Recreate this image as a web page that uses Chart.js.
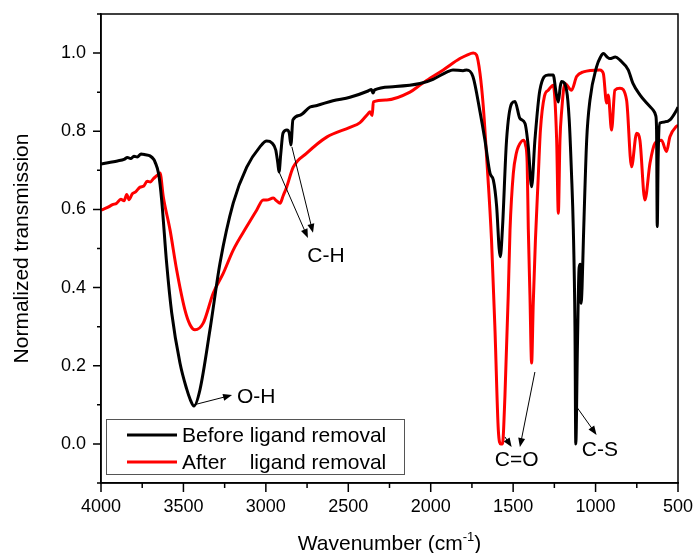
<!DOCTYPE html>
<html>
<head>
<meta charset="utf-8">
<script src="https://cdn.jsdelivr.net/npm/chart.js@4.4.0/dist/chart.umd.min.js"></script>
<style>
  html, body { margin: 0; padding: 0; background: #fff; }
  #wrap { width: 693px; height: 553px; position: relative; }
</style>
</head>
<body>
<div id="wrap"><canvas id="ftir"></canvas></div>
<script>
// FTIR spectra (wavenumber in cm-1, normalized transmission)
const beforeWave = [4000, 3950, 3900, 3860, 3840, 3820, 3800, 3780, 3757, 3730, 3703, 3680, 3672, 3650,
  3632, 3602, 3571, 3521, 3480, 3460, 3436, 3400, 3339, 3278, 3198, 3116, 3036, 2995, 2963, 2940,
  2928, 2920, 2910, 2896, 2872, 2858, 2848, 2836, 2793, 2732, 2690, 2593, 2490, 2380, 2360, 2350,
  2340, 2229, 2065, 1986, 1900, 1865, 1804, 1782, 1744, 1701, 1671, 1640, 1620, 1600, 1585, 1578,
  1565, 1540, 1509, 1489, 1459, 1428, 1408, 1388, 1368, 1338, 1287, 1257, 1240, 1226, 1214, 1206,
  1176, 1160, 1146, 1135, 1125, 1120, 1110, 1100, 1093, 1088, 1082, 1074, 1054, 1034, 994, 970,
  953, 930, 913, 880, 852, 802, 774, 731, 690, 650, 635, 630, 626, 620, 610, 579, 549, 509, 500];
const beforeT = [0.716, 0.72, 0.724, 0.728, 0.733, 0.73, 0.736, 0.734, 0.742, 0.74, 0.737, 0.728, 0.721, 0.69,
  0.624, 0.463, 0.335, 0.207, 0.14, 0.115, 0.097, 0.138, 0.292, 0.463, 0.616, 0.708, 0.76, 0.775, 0.77, 0.752,
  0.72, 0.696, 0.74, 0.795, 0.803, 0.795, 0.765, 0.829, 0.841, 0.862, 0.866, 0.878, 0.887, 0.903, 0.907, 0.898,
  0.906, 0.914, 0.922, 0.933, 0.952, 0.957, 0.955, 0.957, 0.94, 0.85, 0.777, 0.692, 0.675, 0.607, 0.5, 0.479,
  0.55, 0.777, 0.871, 0.876, 0.833, 0.82, 0.76, 0.658, 0.777, 0.905, 0.944, 0.944, 0.9, 0.875, 0.915, 0.927,
  0.905, 0.83, 0.692, 0.55, 0.3, 0.0, 0.25, 0.45, 0.46, 0.36, 0.4, 0.52, 0.777, 0.88, 0.965, 0.99,
  0.999, 0.99, 0.986, 0.99, 0.982, 0.957, 0.923, 0.893, 0.872, 0.854, 0.84, 0.803, 0.556, 0.74, 0.821, 0.824, 0.829, 0.854, 0.862];

const afterWave = [4000, 3960, 3930, 3905, 3880, 3860, 3844, 3830, 3810, 3790, 3763, 3740, 3720, 3700,
  3684, 3665, 3650, 3642, 3622, 3581, 3541, 3491, 3460, 3430, 3380, 3319, 3258, 3198, 3116, 3056,
  3016, 2995, 2955, 2935, 2914, 2895, 2874, 2834, 2752, 2631, 2490, 2429, 2380, 2368, 2355, 2348,
  2267, 2126, 2065, 2025, 1924, 1823, 1780, 1742, 1722, 1701, 1681, 1661, 1631, 1610, 1590, 1575, 1565,
  1550, 1530, 1519, 1499, 1480, 1469, 1438, 1425, 1415, 1408, 1398, 1388, 1378, 1365, 1348, 1335,
  1310, 1287, 1257, 1236, 1226, 1216, 1206, 1186, 1146, 1115, 1074, 974, 953, 933, 923, 903, 883,
  852, 812, 782, 751, 731, 701, 670, 640, 600, 570, 549, 509, 500];
const afterT = [0.598, 0.605, 0.612, 0.616, 0.626, 0.622, 0.638, 0.625, 0.64, 0.645, 0.657, 0.66, 0.672, 0.67,
  0.678, 0.685, 0.69, 0.693, 0.632, 0.547, 0.445, 0.343, 0.305, 0.292, 0.309, 0.386, 0.437, 0.496, 0.556, 0.598,
  0.624, 0.624, 0.629, 0.622, 0.616, 0.635, 0.657, 0.708, 0.744, 0.785, 0.81, 0.822, 0.845, 0.85, 0.84, 0.875,
  0.88, 0.9, 0.918, 0.93, 0.957, 0.986, 0.995, 1.0, 0.995, 0.948, 0.863, 0.735, 0.52, 0.29, 0.036, 0.0, 0.0,
  0.12, 0.377, 0.547, 0.692, 0.745, 0.76, 0.777, 0.765, 0.72, 0.55, 0.38, 0.207, 0.36, 0.52, 0.68, 0.8,
  0.89, 0.905, 0.918, 0.777, 0.59, 0.777, 0.85, 0.922, 0.905, 0.94, 0.952, 0.957, 0.948, 0.872, 0.893, 0.803, 0.905,
  0.91, 0.88, 0.709, 0.795, 0.777, 0.624, 0.718, 0.769, 0.777, 0.748, 0.786, 0.813, 0.815];

const seriesLabels = ['Before ligand removal', 'After    ligand removal'];
const seriesColors = ['#000000', '#ff0000'];

// peak labels: [text, label wavenumber, label value, [[fromW, fromT, toW, toT], ...], align]
const peakNotes = [
  ['O-H', 3175, 0.12, [[3436, 0.10, 3205, 0.125]], 'left'],
  ['C-H', 2635, 0.48, [[2920, 0.696, 2745, 0.527], [2842, 0.76, 2714, 0.54]], 'center'],
  ['C=O', 1479, -0.041, [[1550, 0.018, 1509, -0.008], [1368, 0.184, 1459, -0.008]], 'center'],
  ['C-S', 974, -0.015, [[1115, 0.095, 994, 0.023]], 'center']
];

const FONT = '"Liberation Sans", Arial, sans-serif';

function pairUp(ws, ts) {
  return ws.map((w, i) => ({ x: w, y: ts[i] }));
}

function arrow(ctx, x1, y1, x2, y2) {
  const ang = Math.atan2(y2 - y1, x2 - x1);
  const len = 9, half = 3.5;
  ctx.beginPath();
  ctx.moveTo(x1, y1);
  ctx.lineTo(x2 - Math.cos(ang) * len * 0.8, y2 - Math.sin(ang) * len * 0.8);
  ctx.stroke();
  ctx.beginPath();
  ctx.moveTo(x2, y2);
  ctx.lineTo(x2 - Math.cos(ang) * len - Math.sin(ang) * half, y2 - Math.sin(ang) * len + Math.cos(ang) * half);
  ctx.lineTo(x2 - Math.cos(ang) * len + Math.sin(ang) * half, y2 - Math.sin(ang) * len - Math.cos(ang) * half);
  ctx.closePath();
  ctx.fill();
}

const decorPlugin = {
  id: 'decor',
  afterDraw(chart) {
    const { ctx, chartArea: a, scales: { x, y } } = chart;
    ctx.save();
    ctx.strokeStyle = '#000';
    ctx.fillStyle = '#000';

    // frame
    ctx.lineWidth = 1.5;
    ctx.strokeRect(a.left, a.top, a.right - a.left, a.bottom - a.top);

    // tick marks (major longer than minor)
    ctx.beginPath();
    x.ticks.forEach(t => {
      const px = x.getPixelForValue(t.value);
      const len = t.value % 500 === 0 ? 9 : 5;
      ctx.moveTo(px, a.bottom);
      ctx.lineTo(px, a.bottom + len);
    });
    y.ticks.forEach(t => {
      const py = y.getPixelForValue(t.value);
      const len = Math.round(t.value * 10) % 2 === 0 ? 8 : 4;
      ctx.moveTo(a.left, py);
      ctx.lineTo(a.left - len, py);
    });
    ctx.stroke();

    // axis titles
    ctx.font = '21px ' + FONT;
    ctx.textBaseline = 'middle';
    ctx.textAlign = 'center';
    ctx.save();
    ctx.translate(22, (a.top + a.bottom) / 2);
    ctx.rotate(-Math.PI / 2);
    ctx.fillText('Normalized transmission', 0, 0);
    ctx.restore();

    const main = 'Wavenumber (cm', sup = '-1', tail = ')';
    ctx.font = '21px ' + FONT;
    const wMain = ctx.measureText(main).width;
    const wTail = ctx.measureText(tail).width;
    ctx.font = '13px ' + FONT;
    const wSup = ctx.measureText(sup).width;
    let tx = (a.left + a.right) / 2 - (wMain + wSup + wTail) / 2;
    ctx.textAlign = 'left';
    ctx.textBaseline = 'alphabetic';
    ctx.font = '21px ' + FONT;
    ctx.fillText(main, tx, 550);
    tx += wMain;
    ctx.font = '13px ' + FONT;
    ctx.fillText(sup, tx, 541);
    tx += wSup;
    ctx.font = '21px ' + FONT;
    ctx.fillText(tail, tx, 550);

    // legend box
    ctx.lineWidth = 1;
    ctx.strokeStyle = '#555';
    ctx.strokeRect(106.5, 419.5, 298, 55);
    chart.data.datasets.forEach((ds, i) => {
      const ly = 435 + i * 27;
      ctx.strokeStyle = ds.borderColor;
      ctx.lineWidth = 3;
      ctx.beginPath();
      ctx.moveTo(127, ly);
      ctx.lineTo(177, ly);
      ctx.stroke();
      ctx.fillStyle = '#000';
      ctx.font = '21px ' + FONT;
      ctx.textAlign = 'left';
      ctx.textBaseline = 'middle';
      ctx.fillText(ds.label, 182, ly + 1);
    });

    // peak annotations
    ctx.strokeStyle = '#000';
    ctx.fillStyle = '#000';
    ctx.lineWidth = 1;
    peakNotes.forEach(([txt, lw, lt, arrows, align]) => {
      arrows.forEach(([w1, t1, w2, t2]) => {
        arrow(ctx, x.getPixelForValue(w1), y.getPixelForValue(t1),
          x.getPixelForValue(w2), y.getPixelForValue(t2));
      });
      ctx.font = '21px ' + FONT;
      ctx.textAlign = align;
      ctx.textBaseline = 'middle';
      ctx.fillText(txt, x.getPixelForValue(lw), y.getPixelForValue(lt));
    });
    ctx.restore();
  }
};

const tickFont = { family: FONT, size: 18 };

new Chart(document.getElementById('ftir'), {
  type: 'line',
  data: {
    datasets: [
      { label: seriesLabels[0], data: pairUp(beforeWave, beforeT), borderColor: seriesColors[0] },
      { label: seriesLabels[1], data: pairUp(afterWave, afterT), borderColor: seriesColors[1] }
    ]
  },
  options: {
    responsive: true,
    maintainAspectRatio: false,
    animation: false,
    devicePixelRatio: 1,
    layout: { padding: { top: 14, right: 15, left: 0, bottom: 0 } },
    elements: {
      point: { radius: 0 },
      line: { borderWidth: 3, cubicInterpolationMode: 'monotone', fill: false }
    },
    plugins: { legend: { display: false }, tooltip: { enabled: false } },
    scales: {
      x: {
        type: 'linear',
        reverse: true,
        min: 500,
        max: 4000,
        afterFit: s => { s.height = 70; s.paddingLeft = 0; s.paddingRight = 0; },
        grid: { drawOnChartArea: false, drawTicks: false },
        border: { color: '#000', width: 1.5 },
        ticks: {
          stepSize: 250,
          autoSkip: false,
          maxRotation: 0,
          padding: 13,
          color: '#000',
          font: tickFont,
          callback: v => (v % 500 === 0 ? String(v) : '')
        }
      },
      y: {
        min: -0.1,
        max: 1.1,
        afterFit: s => { s.width = 101; s.paddingTop = 0; s.paddingBottom = 0; },
        grid: { drawOnChartArea: false, drawTicks: false },
        border: { color: '#000', width: 1.5 },
        ticks: {
          stepSize: 0.1,
          autoSkip: false,
          padding: 15,
          color: '#000',
          font: tickFont,
          callback: v => (Math.round(v * 10) % 2 === 0 ? v.toFixed(1) : '')
        }
      }
    }
  },
  plugins: [decorPlugin]
});
</script>
</body>
</html>
